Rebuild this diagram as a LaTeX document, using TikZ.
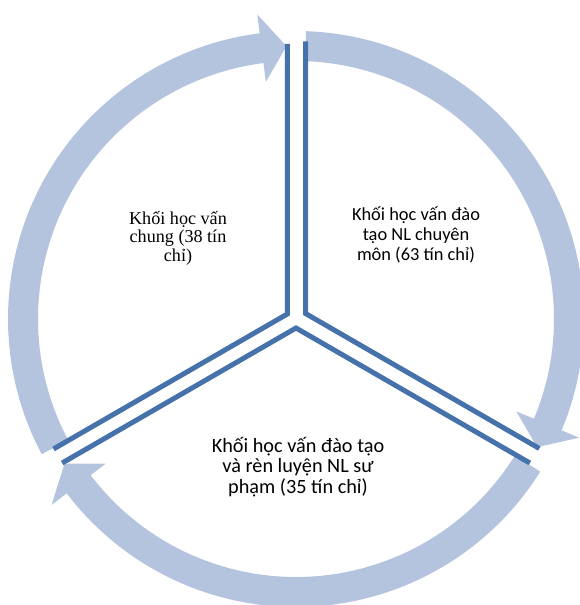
\documentclass[tikz,border=0pt]{standalone}
\usepackage{fontspec}
\setmainfont{Liberation Serif}
\newfontfamily\calibrifont{Carlito}
\usepackage{xcolor}
\usetikzlibrary{calc}
\definecolor{ringblue}{RGB}{180,196,222}
\definecolor{lineblue}{RGB}{70,114,172}

\begin{document}
\begin{tikzpicture}[
  x=0.75pt, y=0.75pt,
  ring/.style={fill=ringblue, draw=none},
  sep/.style={draw=lineblue, line width=3.75pt},
  lbl/.style={align=center, inner sep=0pt}
]
\useasboundingbox (-296,-286) rectangle (283,319);
\coordinate (c) at (0,0);

% cycle arrows
\fill[ring] (208:288) arc[start angle=208, end angle=97.25, radius=288]
  -- (97.25:307) -- (92:273) -- (97.25:239) -- (97.25:258)
  arc[start angle=97.25, end angle=208, radius=258] -- cycle;
\fill[ring] (88:288) arc[start angle=88, end angle=-22.75, radius=288]
  -- (-22.75:307) -- (-28:273) -- (-22.75:239) -- (-22.75:258)
  arc[start angle=-22.75, end angle=88, radius=258] -- cycle;
\fill[ring] (-32:288) arc[start angle=-32, end angle=-142.75, radius=288]
  -- (-142.75:307) -- (-148:273) -- (-142.75:239) -- (-142.75:258)
  arc[start angle=-142.75, end angle=-32, radius=258] -- cycle;

% exploded sectors
\coordinate (tl)  at ($(c)+(150:10)$);
\coordinate (tlA) at ($(tl)+(90:270)$);
\coordinate (tlB) at ($(tl)+(210:270)$);
\coordinate (tr)  at ($(c)+(30:11)$);
\coordinate (trA) at ($(tr)+(90:272)$);
\coordinate (trB) at ($(tr)+(-30:270)$);
\coordinate (bt)  at ($(c)+(270:9)$);
\coordinate (btA) at ($(bt)+(210:270)$);
\coordinate (btB) at ($(bt)+(-30:270)$);

\draw[sep] (tlB) -- (tl) -- (tlA);
\draw[sep] (trA) -- (tr) -- (trB);
\draw[sep] (btA) -- (bt) -- (btB);

% labels
\node[lbl, font={\fontsize{13.6}{13.8}\selectfont}] (chung) at (-118,81)
  {Khối học vấn\\chung (38 tín\\chỉ)};
\node[lbl, font={\calibrifont\fontsize{13.8}{15}\selectfont}] (chuyenmon) at (120,84)
  {Khối học vấn đào\\tạo NL chuyên\\môn (63 tín chỉ)};
\node[lbl, font={\calibrifont\fontsize{15.2}{15.4}\selectfont}] (supham) at (2,-148)
  {Khối học vấn đào tạo\\và rèn luyện NL sư\\phạm (35 tín chỉ)};
\end{tikzpicture}
\end{document}
